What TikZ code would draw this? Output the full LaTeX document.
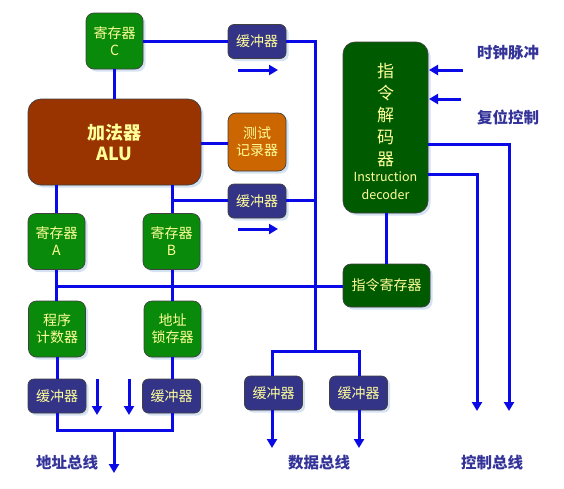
\documentclass[tikz,border=0pt]{standalone}
\usepackage{fontspec}
\setmainfont{Noto Sans CJK SC}
\usetikzlibrary{arrows.meta,shadows}
\definecolor{boxgreen}{HTML}{0A8A0A}
\definecolor{decgreen}{HTML}{005A00}
\definecolor{alubrown}{HTML}{993300}
\definecolor{testorange}{HTML}{CC6600}
\definecolor{bufblue}{HTML}{333388}
\definecolor{txtyellow}{HTML}{FFFF99}
\definecolor{lineblue}{HTML}{0A0AE6}
\definecolor{labblue}{HTML}{333399}
\definecolor{shadowblue}{HTML}{D4E2F2}
\newcommand{\latsm}{\fontsize{12.5}{18}\selectfont}
\tikzset{
  base/.style={draw=black!75, line width=0.7pt, text=txtyellow, align=center, inner sep=0pt,
     drop shadow={shadow xshift=2.5pt, shadow yshift=-2.5pt, fill=shadowblue, opacity=1}},
  regbox/.style={base, fill=boxgreen, rounded corners=8pt, minimum width=57pt, minimum height=56pt,
     font=\fontsize{14}{17}\selectfont},
  bufbox/.style={base, fill=bufblue, rounded corners=6pt, minimum width=58pt, minimum height=34pt,
     font=\fontsize{14}{17}\selectfont},
  wire/.style={draw=lineblue, line width=3pt},
  arr/.style={wire, -{Triangle[width=10pt,length=9pt]}},
  buslabel/.style={text=labblue, font=\fontsize{15.5}{18}\selectfont\bfseries, inner sep=0pt}
}
\begin{document}
\begin{tikzpicture}[x=1pt,y=-1pt]
\useasboundingbox (0,0) rectangle (564,488);
% nodes
\node[regbox] (regC) at (114.5,41) {寄存器\\C};
\node[bufbox] (bufT) at (257,41.5) {缓冲器};
\node[base, fill=alubrown, rounded corners=13pt, minimum width=173pt, minimum height=86pt,
      font=\fontsize{18}{21}\selectfont\bfseries] (alu) at (114.5,142) {加法器\\ALU};
\node[base, fill=testorange, rounded corners=8pt, minimum width=58pt, minimum height=58pt,
      font=\fontsize{14}{17}\selectfont] (test) at (257,142) {测试\\记录器};
\node[bufbox] (bufM) at (257,201) {缓冲器};
\node[regbox] (regA) at (56.5,241.5) {寄存器\\A};
\node[regbox] (regB) at (171.5,241.5) {寄存器\\B};
\node[base, fill=decgreen, rounded corners=12pt, minimum width=85pt, minimum height=171pt,
      font=\fontsize{17}{22}\selectfont] (dec) at (385.5,127.5)
      {\mbox{}\\[0pt]指\\令\\解\\码\\器\\[-6pt]\latsm Instruction\\[-4pt]\latsm decoder};
\node[base, fill=decgreen, rounded corners=8pt, minimum width=87pt, minimum height=43pt,
      font=\fontsize{14}{17}\selectfont] (ir) at (386.5,285.5) {指令寄存器};
\node[regbox] (pc) at (57,329) {程序\\计数器};
\node[regbox] (al) at (172.5,329) {地址\\锁存器};
\node[bufbox] (bufBL) at (57,396) {缓冲器};
\node[bufbox] (bufBR) at (171.5,396) {缓冲器};
\node[bufbox] (bufD1) at (273.5,393) {缓冲器};
\node[bufbox] (bufD2) at (358.5,393) {缓冲器};
% labels
\node[buslabel] (clk) at (508,53) {时钟脉冲};
\node[buslabel] (rst) at (508,117) {复位控制};
\node[buslabel] (abus) at (67,463) {地址总线};
\node[buslabel] (dbus) at (319,463) {数据总线};
\node[buslabel] (cbus) at (492,463) {控制总线};
% coordinates
\coordinate (dtop) at (315,41);
\coordinate (dmid) at (315,200);
\coordinate (dbot) at (315,351);
\coordinate (jB) at (172,200);
\coordinate (irL) at (57,286);
\coordinate (aL) at (57,430);
\coordinate (aR) at (172,430);
\coordinate (aM) at (114,430);
\coordinate (aEnd) at (114,473);
\coordinate (dL) at (272,351);
\coordinate (dR) at (359,351);
\coordinate (d1End) at (272,448);
\coordinate (d2End) at (359,448);
\coordinate (c1) at (509,144);
\coordinate (c1End) at (509,411);
\coordinate (c2) at (477,174);
\coordinate (c2End) at (477,411);
\coordinate (clkS) at (463,70);
\coordinate (clkE) at (429,70);
\coordinate (rstS) at (461,99);
\coordinate (rstE) at (429,99);
\coordinate (t1s) at (238,70);
\coordinate (t1e) at (278,70);
\coordinate (t2s) at (238,229);
\coordinate (t2e) at (278,229);
\coordinate (v1s) at (97,379);
\coordinate (v1e) at (97,415);
\coordinate (v2s) at (129,379);
\coordinate (v2e) at (129,415);
% wires
\draw[wire] (regC.east |- 0,41) -- (bufT.west |- 0,41);
\draw[wire] (bufT.east |- 0,41) -- (dtop) -- (dbot);
\draw[wire] (regC.south) -- (alu.north -| regC.south);
\draw[wire] (alu.east |- 0,143) -- (test.west |- 0,143);
\draw[wire] (alu.south -| jB) -- (regB.north -| jB);
\draw[wire] (jB) -- (bufM.west |- jB);
\draw[wire] (bufM.east |- dmid) -- (dmid);
\draw[wire] (alu.south -| regA.north) -- (regA.north);
\draw[wire] (regA.south) -- (pc.north -| regA.south);
\draw[wire] (regB.south -| al.north) -- (al.north);
\draw[wire] (irL) -- (ir.west |- irL);
\draw[wire] (dec.south -| ir.north) -- (ir.north);
\draw[wire] (pc.south) -- (bufBL.north);
\draw[wire] (al.south -| aR) -- (bufBR.north -| aR);
\draw[wire] (bufBL.south) -- (aL) -- (aR) -- (bufBR.south -| aR);
\draw[arr] (aM) -- (aEnd);
\draw[wire] (bufD1.north -| dL) -- (dL) -- (dR) -- (bufD2.north -| dR);
\draw[arr] (bufD1.south -| dL) -- (d1End);
\draw[arr] (bufD2.south -| dR) -- (d2End);
\draw[arr] (dec.east |- c1) -- (c1) -- (c1End);
\draw[arr] (dec.east |- c2) -- (c2) -- (c2End);
\draw[arr] (clkS) -- (clkE);
\draw[arr] (rstS) -- (rstE);
\draw[arr] (t1s) -- (t1e);
\draw[arr] (t2s) -- (t2e);
\draw[arr] (v1s) -- (v1e);
\draw[arr] (v2s) -- (v2e);
\end{tikzpicture}
\end{document}
